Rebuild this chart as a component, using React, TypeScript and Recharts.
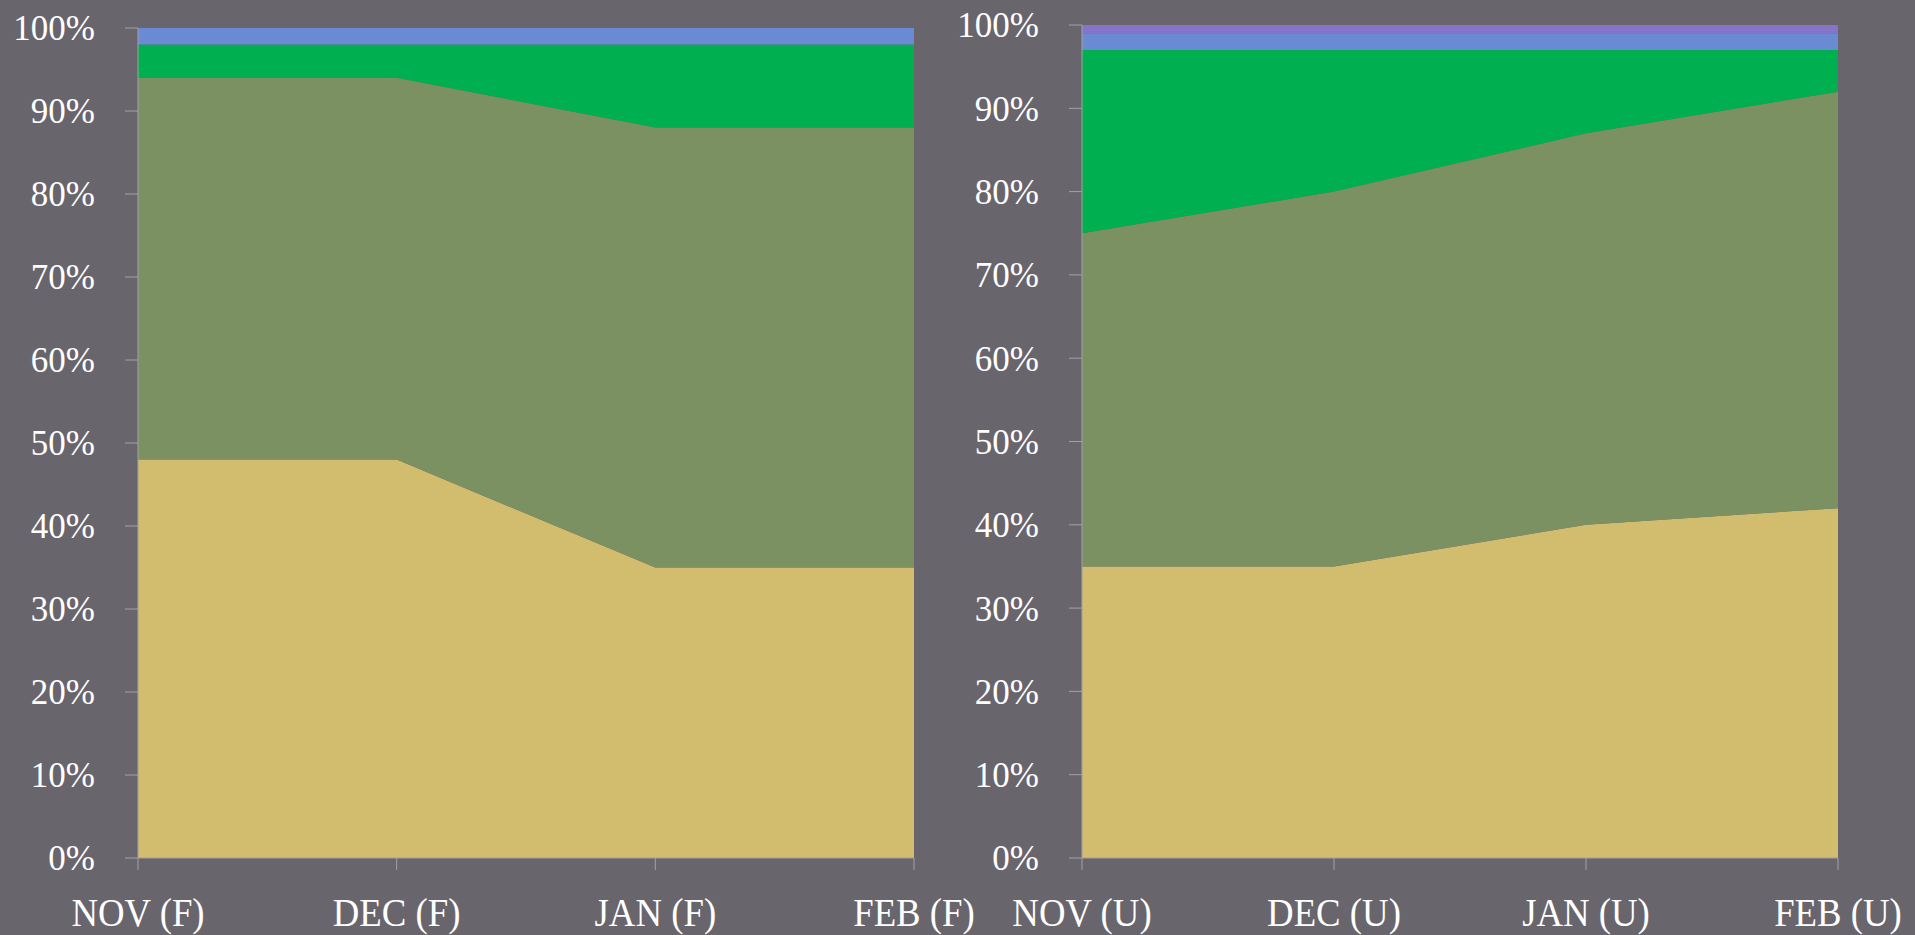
import { AreaChart, Area, XAxis, YAxis } from 'recharts';

// left panel (F)
const catsF = ['NOV (F)', 'DEC (F)', 'JAN (F)', 'FEB (F)'];
const yellowF = [48, 48, 35, 35];
const oliveF = [46, 46, 53, 53];
const greenF = [4, 4, 10, 10];
const blueF = [2, 2, 2, 2];

// right panel (U)
const catsU = ['NOV (U)', 'DEC (U)', 'JAN (U)', 'FEB (U)'];
const yellowU = [35, 35, 40, 42];
const oliveU = [40, 45, 47, 50];
const greenU = [22, 17, 10, 5];
const blueU = [2, 2, 2, 2];
const purpleU = [1, 1, 1, 1];

const yTicks = [0, 10, 20, 30, 40, 50, 60, 70, 80, 90, 100];

const BG = '#68656d';
const AXIS = '#a3a1a8';
const FONT = '"Liberation Serif", "Times New Roman", serif';

const COLORS = {
  yellow: '#d2bd6e',
  olive: '#7c9162',
  green: '#00b050',
  blue: '#6a8bd4',
  purple: '#8574c8',
};

const dataF = catsF.map((c, i) => ({
  cat: c,
  yellow: yellowF[i],
  olive: oliveF[i],
  green: greenF[i],
  blue: blueF[i],
}));

const dataU = catsU.map((c, i) => ({
  cat: c,
  yellow: yellowU[i],
  olive: oliveU[i],
  green: greenU[i],
  blue: blueU[i],
  purple: purpleU[i],
}));

function XTick({ x, y, payload }: { x?: number; y?: number; payload?: { value: string } }) {
  return (
    <g transform={`translate(${x},${y}) scale(0.92,1)`}>
      <text x={0} y={0} dy="0.71em" textAnchor="middle" fill="#ffffff" fontSize={40} fontFamily={FONT}>
        {payload?.value}
      </text>
    </g>
  );
}

// both panels are full-page svgs stacked on top of each other; margins place the plot
function Panel({ data, keys, yWidth, margin }: {
  data: Record<string, string | number>[];
  keys: (keyof typeof COLORS)[];
  yWidth: number;
  margin: { top: number; right: number; bottom: number; left: number };
}) {
  return (
    <AreaChart width={1915} height={935} data={data} margin={margin}>
      <XAxis
        dataKey="cat"
        stroke={AXIS}
        tickSize={12}
        tickMargin={28}
        height={60}
        interval={0}
        tick={<XTick />}
      />
      <YAxis
        domain={[0, 100]}
        ticks={yTicks}
        width={yWidth}
        stroke={AXIS}
        tickSize={13}
        tickMargin={30}
        tickFormatter={(v: number) => `${v}%`}
        tick={{ fill: '#ffffff', fontSize: 35, fontFamily: FONT }}
      />
      {keys.map((k) => (
        <Area
          key={k}
          type="linear"
          dataKey={k}
          stackId="1"
          stroke="none"
          fill={COLORS[k]}
          fillOpacity={1}
          dot={false}
          activeDot={false}
          isAnimationActive={false}
        />
      ))}
    </AreaChart>
  );
}

export default function App() {
  return (
    <div style={{ position: 'fixed', left: 0, top: 0, width: 1915, height: 935, background: BG, overflow: 'hidden' }}>
      <div style={{ position: 'absolute', left: 0, top: 0 }}>
        <Panel
          data={dataF}
          keys={['yellow', 'olive', 'green', 'blue']}
          yWidth={138}
          margin={{ top: 28, right: 1001, bottom: 17, left: 0 }}
        />
      </div>
      <div style={{ position: 'absolute', left: 0, top: 0 }}>
        <Panel
          data={dataU}
          keys={['yellow', 'olive', 'green', 'blue', 'purple']}
          yWidth={122}
          margin={{ top: 25, right: 77, bottom: 17, left: 960 }}
        />
      </div>
    </div>
  );
}
